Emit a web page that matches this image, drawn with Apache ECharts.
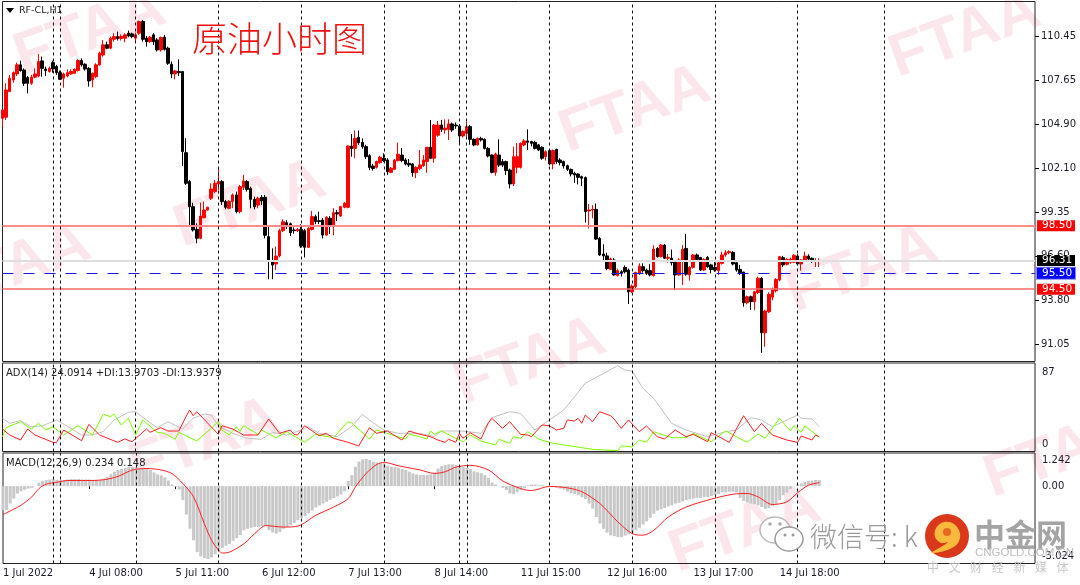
<!DOCTYPE html>
<html><head><meta charset="utf-8">
<style>html,body{margin:0;padding:0;background:#fff}#c{width:1080px;height:585px}</style>
<script src="https://cdn.jsdelivr.net/npm/echarts@6/dist/echarts.min.js"></script>
</head><body><div id="c"></div>
<script>
const opens=[105.27,105.33,106.95,107.68,108.06,108.63,108.31,107.83,107.47,107.85,
107.93,108.88,108.37,108.21,108.77,108.52,108.14,107.79,107.93,108.06,
108.10,108.27,108.90,108.67,108.41,107.68,107.89,108.63,109.25,109.89,
109.68,110.24,110.41,110.29,110.31,110.62,110.58,110.31,110.62,111.36,
110.31,110.09,110.52,110.20,109.57,110.37,109.68,108.67,108.06,108.21,
108.21,103.10,101.28,99.70,98.27,97.71,99.00,99.49,100.23,100.65,
101.13,101.28,100.02,99.60,100.02,100.44,99.39,100.92,101.28,100.85,
100.16,99.80,100.29,100.29,97.81,96.24,96.09,96.60,98.19,98.69,
98.62,98.23,98.19,98.27,98.19,97.14,98.27,99.07,98.82,98.86,
97.91,98.97,98.55,99.32,99.11,99.66,99.66,103.52,103.37,104.07,
103.75,103.48,102.91,102.26,102.18,102.47,102.75,102.64,101.86,102.05,
102.60,102.95,102.64,102.43,102.39,101.84,102.11,102.28,102.55,103.44,
102.75,104.20,104.84,104.54,104.57,104.91,104.84,104.78,104.15,104.32,
104.74,103.94,103.59,104.00,103.94,103.37,102.95,101.86,102.95,102.54,
102.54,102.01,101.13,102.18,102.18,103.59,103.84,103.80,103.75,103.59,
103.44,102.85,103.23,102.39,103.31,102.64,102.54,102.28,102.05,101.80,
101.76,101.59,101.53,99.43,99.49,99.53,97.70,96.72,96.60,95.75,
96.34,95.37,95.60,95.88,95.71,94.34,94.66,95.50,95.92,95.71,
95.67,95.35,97.07,96.55,97.28,96.45,96.45,96.24,95.40,96.34,
97.07,95.40,95.88,96.66,96.50,95.71,96.50,96.03,95.88,95.67,
96.13,96.66,96.80,96.82,96.17,95.75,95.58,93.65,94.03,93.72,
94.30,95.19,91.76,93.08,94.00,94.40,95.08,96.49,96.07,96.20,
96.20,96.59,96.09,96.32,96.59,96.45,96.27,96.27];
const closes=[105.79,107.05,107.79,108.14,108.63,108.27,107.47,107.47,107.85,108.06,
108.84,108.41,108.27,108.41,108.37,108.14,107.72,108.06,108.14,108.21,
108.35,108.90,108.63,108.37,107.62,108.10,108.63,109.36,109.89,109.68,
110.31,110.41,110.29,110.41,110.52,110.45,110.41,110.52,111.36,110.24,
110.09,110.37,110.09,109.57,110.35,109.61,108.73,108.06,108.25,108.14,
103.17,101.17,99.70,98.23,97.71,99.11,99.49,99.66,100.81,101.17,
101.28,100.02,99.66,100.02,100.44,99.39,100.96,101.32,100.79,100.16,
99.70,100.23,100.06,97.90,96.24,96.03,96.59,98.19,98.75,98.54,
98.06,98.19,98.27,97.22,97.14,98.34,99.07,98.76,98.76,97.91,
99.03,98.55,99.32,99.24,99.70,99.91,103.52,103.37,104.00,103.73,
103.48,102.85,102.17,102.11,102.54,102.81,102.60,101.90,102.12,102.64,
103.00,102.60,102.39,102.33,101.84,102.18,102.33,102.64,103.44,102.75,
104.84,104.84,104.57,104.65,104.91,104.53,104.78,104.15,104.43,104.74,
103.94,103.59,104.00,103.90,103.37,102.89,101.86,103.02,102.32,102.32,
101.97,101.13,102.85,102.85,103.69,103.84,103.75,103.69,103.37,103.27,
102.75,103.16,102.39,103.23,102.54,102.47,102.26,102.05,101.76,101.70,
101.55,101.49,99.39,99.49,99.53,97.66,96.66,96.60,95.81,96.40,
95.40,95.67,95.50,95.60,94.34,94.70,95.56,95.96,95.67,95.50,
95.40,97.03,96.55,97.28,96.45,96.51,96.17,95.40,96.34,97.01,
95.45,95.88,96.66,96.38,95.71,96.38,95.92,95.75,95.71,96.17,
96.66,96.80,96.87,96.09,95.71,95.54,93.65,94.03,93.72,94.34,
95.19,91.76,93.13,94.18,94.45,95.12,96.55,96.03,96.38,96.40,
96.63,96.09,96.34,96.59,96.40,96.24,96.31,96.31];
const lows=[104.74,105.16,106.95,107.51,107.93,108.21,107.30,106.84,107.37,107.79,
107.85,107.89,107.93,108.14,108.14,108.00,107.68,107.20,107.85,108.00,
108.06,108.21,108.52,108.27,107.26,107.22,107.79,108.56,109.15,109.61,
109.61,110.09,110.16,110.16,110.05,110.37,110.31,110.05,110.52,110.09,
109.78,110.03,109.89,109.47,109.47,109.53,108.63,107.79,107.72,107.93,
102.26,101.07,98.50,98.13,97.39,97.65,98.97,99.45,100.12,100.54,
100.75,99.80,99.53,99.53,99.60,99.28,99.28,100.75,100.65,99.60,
99.53,99.60,99.80,97.70,95.13,95.13,95.71,96.50,98.10,98.30,
97.85,98.00,98.10,97.10,96.50,97.10,98.20,98.60,98.60,97.70,
97.85,97.98,97.90,98.80,99.05,99.60,99.60,102.85,102.75,103.60,
103.35,102.70,102.00,101.97,102.10,102.40,102.50,101.70,101.80,102.00,
102.55,102.50,102.30,102.20,101.59,101.49,102.00,102.20,101.84,102.70,
102.47,104.10,104.40,104.30,103.90,104.40,104.60,103.65,104.05,104.10,
103.60,103.50,103.55,103.80,103.30,102.80,101.80,101.65,102.20,102.20,
101.70,100.85,101.00,101.80,102.10,103.50,103.27,103.50,103.30,103.20,
102.65,102.60,102.30,102.05,102.40,102.30,102.10,101.95,101.60,101.20,
101.10,101.00,98.70,98.33,98.97,97.60,96.60,96.34,95.70,95.70,
95.35,95.30,95.30,95.50,93.57,94.25,94.55,95.40,95.55,95.40,
95.30,95.30,96.50,96.50,96.40,96.17,96.00,94.45,95.35,94.77,
95.35,95.04,95.80,96.30,95.65,95.65,95.85,95.50,95.60,95.40,
96.05,96.55,96.70,96.00,95.60,95.40,93.40,93.55,93.20,93.20,
94.20,90.50,90.88,93.00,93.80,94.30,95.00,95.90,96.00,96.10,
96.15,96.00,95.67,96.25,96.30,96.15,95.90,95.90];
const highs=[105.79,107.47,108.00,108.21,108.77,108.90,108.41,107.93,108.00,108.41,
109.32,109.15,108.52,108.52,108.90,108.63,108.27,108.14,108.35,108.35,
108.41,108.98,109.04,108.73,108.48,108.14,108.73,109.46,110.20,110.09,
110.41,110.62,110.72,110.55,110.62,110.79,110.66,110.66,111.42,111.46,
110.45,110.45,110.62,110.31,110.41,110.52,109.78,108.84,108.31,108.98,
108.21,104.01,101.38,99.95,98.65,99.95,100.02,99.70,101.17,101.38,
102.12,101.38,100.12,100.12,100.54,100.65,101.07,101.70,101.38,100.96,
100.33,100.33,100.44,100.44,98.44,97.08,97.18,98.30,98.90,98.85,
98.70,98.40,98.35,98.60,98.30,98.40,99.43,99.20,99.38,99.00,
99.10,99.10,99.60,99.50,99.75,100.00,103.55,104.28,104.50,104.50,
104.00,103.60,103.00,102.40,102.60,102.90,103.06,102.75,102.20,102.70,
103.73,103.40,102.75,102.70,102.45,102.25,103.27,102.95,103.44,105.16,
104.90,105.10,105.16,105.20,105.20,105.00,105.00,104.90,104.50,105.05,
104.85,104.00,104.05,104.10,104.00,103.45,103.00,103.10,103.94,102.70,
102.60,102.10,103.48,103.70,103.75,103.95,104.57,103.85,103.85,103.65,
103.50,103.25,103.30,103.30,103.35,102.75,102.60,102.35,102.10,101.90,
101.80,101.65,101.60,99.87,99.80,99.90,97.80,97.33,96.80,96.50,
96.45,95.80,95.70,96.00,95.80,94.80,95.60,96.13,96.13,95.80,
96.08,97.28,97.15,97.35,97.35,96.72,97.00,96.30,96.45,97.28,
97.98,95.95,96.72,96.75,96.55,96.45,96.60,96.10,96.34,96.25,
96.87,96.97,96.95,96.90,96.30,96.03,95.60,94.10,94.10,94.40,
95.30,95.25,93.20,94.30,94.60,95.20,96.60,96.60,96.45,96.50,
96.70,96.70,96.40,96.87,96.70,96.50,96.45,96.45];

const macdHist=[-.98,-.98,-.71,-.51,-.30,-.21,-.15,-.10,-.07,0,
.14,.21,.25,.27,.29,.26,.25,.25,.27,.29,.29,.29,.27,.27,.27,.25,.25,.27,.31,.38,
.49,.59,.66,.70,.74,.78,.79,.79,.72,.72,.72,.66,.56,.48,.44,.36,.23,.07,-.03,-.14,
-.57,-1.16,-1.74,-2.21,-2.69,-2.87,-2.94,-2.97,-2.91,-2.78,-2.65,-2.52,-2.43,-2.36,-2.23,-2.12,-2.00,-1.80,-1.74,-1.70,
-1.67,-1.67,-1.63,-1.63,-1.80,-1.89,-1.94,-1.87,-1.74,-1.67,-1.59,-1.50,-1.38,-1.30,-1.22,-1.11,-1.00,-.87,-.79,-.71,
-.64,-.56,-.49,-.42,-.34,-.21,.21,.45,.79,1.00,1.09,1.11,1.07,1.00,.97,.96,.93,.83,.79,.77,
.75,.70,.66,.59,.52,.48,
.45,.45,.45,.48,.56,.72,.82,.86,.89,.89,.86,.82,.78,.75,.70,.60,.57,.53,.45,.34,
.15,.07,.01,-.07,-.16,-.30,-.33,-.25,-.15,-.07,.04,.07,.07,.04,.04,.01,0,-.03,-.07,-.10,
-.14,-.22,-.29,-.33,-.37,-.45,-.53,-.71,-.92,-1.26,-1.53,-1.74,-1.90,-2.01,-2.04,-2.08,-2.08,-2.02,-1.96,-1.90,
-1.80,-1.70,-1.57,-1.44,-1.29,-1.13,-1.00,-.94,-.89,-.83,-.78,-.71,-.68,-.62,-.57,-.53,-.51,-.48,-.48,-.44,
-.44,-.40,-.37,-.33,-.26,-.25,-.23,-.23,-.26,-.48,-.60,-.67,-.71,-.73,-.78,-.85,-.92,-.89,-.81,-.74,
-.57,-.37,-.26,-.12,0,.07,.11,.18,.21,.23,.25,.25];
const macdSignal=[[0,-1.16],[3,-.94],[5,-.78],[8,-.44],[10,-.10],[12,.08],[15,.16],[18,.23],[23,.23],[28,.26],[32,.40],[36,.66],[40,.72],[44,.66],[47,.51],[50,.11],[53,-.44],[56,-1.53],[58,-2.21],[60,-2.62],[61,-2.73],[63,-2.69],[67,-2.35],[71,-1.80],[73,-1.61],[78,-1.67],[82,-1.63],[87,-1.19],[92,-.85],[96,-.51],[98,-.03],[101,.52],[104,.89],[106,.97],[110,.83],[116,.66],[120,.52],[123,.59],[126,.78],[130,.85],[135,.66],[139,.21],[144,-.10],[147,-.18],[152,-.01],[157,-.07],[161,-.23],[166,-.71],[171,-1.46],[175,-1.94],[178,-2.00],[181,-1.80],[185,-1.26],[190,-.85],[197,-.53],[203,-.33],[207,-.30],[210,-.44],[214,-.75],[218,-.64],[221,-.27],[224,.04],[227,.14]];
const adxLine=[[0,32.7],[2,27.7],[5,30.3],[8,24.3],[11,25],[15,31],[19,22.7],[22,16],[25,16],[28,19.3],[31,31],[35,38.7],[37,39.3],[40,31],[43,23.3],[46,29.3],[47,27.7],[50,22],[53,32.7],[56,37],[58,36],[60,25.3],[64,17.7],[68,12.7],[72,11.7],[75,18.7],[79,16],[83,21],[85,24.3],[88,17.7],[93,14.3],[97,24.3],[100,36.7],[102,31],[106,21],[110,17.7],[116,17.7],[120,14.3],[122,20],[128,20],[133,17.7],[136,33.3],[141,39.3],[144,37.7],[148,21],[152,31],[156,41],[162,67.7],[171,85.3],[173,81],[175,80],[178,62.7],[181,52.7],[186,27.7],[190,21],[196,14.3],[201,19.3],[204,21],[208,33.3],[211,31],[214,24.3],[221,36],[222,32.7],[225,32],[227,24.3]];
const plusDI=[[0,22],[2,16],[5,11],[7,22],[9,16],[14,8.7],[15,8.3],[17,21],[22,10.3],[24,26.7],[27,16],[32,8.7],[34,12],[36,9.3],[40,22],[41,18.7],[44,23.3],[46,20],[49,20],[51,34.3],[52,41],[53,35.3],[54,39.3],[60,16.7],[61,25.3],[64,22],[67,16],[71,16],[74,32],[77,17.7],[80,21],[81,16.7],[82,16],[84,25.3],[88,15.3],[90,17.7],[92,12.7],[96,8.7],[99,5],[102,23.3],[104,17.7],[107,20],[111,11],[113,20],[116,16.7],[119,14.3],[121,11],[123,8.7],[124,11.7],[126,8.7],[127,17.7],[128,12.7],[130,18.3],[133,12],[135,27.7],[136,32.7],[139,22.7],[141,29.3],[144,16.7],[146,16],[147,14.3],[150,26],[152,25.3],[154,21],[156,22.7],[157,31],[159,30],[160,32.7],[161,27.7],[162,36],[164,29.3],[166,39.3],[169,35.3],[170,32],[172,22.7],[174,31],[177,19.3],[179,25],[182,14.3],[184,12],[187,21],[190,14.3],[192,16.7],[196,9.3],[197,18.3],[202,8.7],[206,35.3],[209,19.3],[211,27.7],[214,16],[218,11],[221,8.7],[222,15],[225,11],[226,16],[227,14.3]];
const minusDI=[[0,14.3],[1,23.3],[5,29.3],[8,22],[10,27.7],[12,21],[14,24.3],[17,16],[21,25.3],[25,16],[28,36.7],[30,34.3],[31,37],[33,26],[35,32.7],[37,16],[39,31],[43,18.7],[45,17.7],[48,11.7],[49,18.7],[54,10],[58,22.7],[60,29.3],[61,21],[63,16],[65,24.3],[66,19.3],[67,25.3],[71,16.7],[72,21],[76,13.3],[79,19.3],[84,8.7],[87,16.7],[92,13.3],[96,29.3],[97,28.3],[102,12],[104,21],[112,12],[113,16.7],[116,14.3],[118,12],[119,20],[120,16.7],[122,20],[127,11],[128,9.3],[130,16],[133,10],[137,6],[138,11.7],[141,7.7],[142,14.3],[144,12.7],[146,19.3],[149,12],[153,7.7],[158,5],[164,1.7],[171,.3],[172,5.3],[175,4],[177,11],[179,8.7],[181,19.3],[186,13.3],[190,13.3],[192,17.7],[197,9.3],[201,20],[207,8.7],[210,17],[212,12.7],[216,32.7],[219,20],[220,25.3],[222,18.7],[223,25],[227,14]];

const tickLabels=['1 Jul 2022','4 Jul 08:00','5 Jul 11:00','6 Jul 12:00','7 Jul 13:00','8 Jul 14:00','11 Jul 15:00','12 Jul 16:00','13 Jul 17:00','14 Jul 18:00'];
const priceTicks=[110.45,107.65,104.90,102.10,99.35,96.60,93.80,91.05];
const adxTicks=[87,0];
const macdTicks=[1.242,0,-3.024];
const periodBars=[14,16,37,60,83,106,127,129,152,175,198,221,245];
const LEVELS={upper:98.50,last:96.31,mid:95.50,lower:94.50};
const TOTAL_SLOTS=288;

const FONT='"DejaVu Sans",sans-serif';
const categories=Array.from({length:TOTAL_SLOTS},(_,i)=>String(i));
const candleData=opens.map((o,i)=>[o,closes[i],lows[i],highs[i]]);
const vLines={silent:true,symbol:'none',animation:false,label:{show:false},
  lineStyle:{color:'#111',type:[3,3],width:1},data:periodBars.map(b=>({xAxis:b}))};
function tag(v,bg,txt,border){return {yAxis:v,label:{show:true,position:'end',distance:2,formatter:txt,color:'#fff',
  backgroundColor:bg,fontFamily:FONT,fontSize:10.5,padding:[1,4,0,5],width:29,height:10,lineHeight:10,borderColor:border||bg,borderWidth:border?1:0}};}
const hLines={silent:true,symbol:'none',animation:false,data:[
  Object.assign(tag(LEVELS.upper,'#ff0000',LEVELS.upper.toFixed(2)),{lineStyle:{color:'#ff8a8a',width:2,type:'solid'}}),
  Object.assign(tag(LEVELS.last,'#000000',LEVELS.last.toFixed(2)),{lineStyle:{color:'#dedede',width:2,type:'solid'}}),
  Object.assign(tag(LEVELS.mid,'#0000ff',LEVELS.mid.toFixed(2),'#8888ff'),{lineStyle:{color:'#1818e0',width:1,type:[11,10]}}),
  Object.assign(tag(LEVELS.lower,'#ff0000',LEVELS.lower.toFixed(2)),{lineStyle:{color:'#ff6a6a',width:1.5,type:'solid'}})
]};

const commonX=i=>({type:'category',gridIndex:i,data:categories,boundaryGap:false,
  axisLine:{show:false},axisTick:{show:false},axisLabel:{show:false},splitLine:{show:false}});
function axisY(i,min,max,ticks,fmt,tick,rich){return {type:'value',gridIndex:i,position:'right',min,max,scale:true,
  axisLine:{show:false},splitLine:{show:false},
  axisTick:{show:tick,length:4,lineStyle:{color:'#000'},customValues:ticks},
  axisLabel:{show:true,customValues:ticks,margin:tick?6:7,color:'#1a1a2a',fontFamily:FONT,fontSize:10,formatter:fmt,rich:rich||{}}};}

const marks=[[90,33],[250,205],[635,110],[965,35],[15,268],[862,270],[530,362],[205,443],[745,530],[1060,455]];
const graphics=marks.map(([x,y])=>({type:'text',x,y,rotation:.35,z:-10,zlevel:0,silent:true,
  style:{text:'FTAA',font:'bold 60px "Liberation Sans",sans-serif',fill:'#fbe6ec',align:'center',verticalAlign:'middle'}}));
const t=(x,y,text,font,fill,extra)=>({type:'text',x,y,z:50,silent:true,style:Object.assign({text,font,fill,verticalAlign:'middle'},extra||{})});
const footer='中文财经新媒体'.split('').map((c,i)=>t(927+i*21.6,567,c,'12px "Noto Sans CJK SC"','#c8c8c8'));
graphics.push(
 {type:'polygon',z:50,shape:{points:[[6,8],[14,8],[10,13]]},style:{fill:'#000'}},
 t(19,11,'RF-CL,H1','9.5px '+FONT,'#222'),
 t(192,39,'原油小时图','300 35px "Noto Sans CJK SC"','#f01010'),
 t(6,373,'ADX(14) 24.0914 +DI:13.9703 -DI:13.9379','10px '+FONT,'#222'),
 t(6,463,'MACD(12,26,9) 0.234 0.148','10px '+FONT,'#222'),
 {type:'ellipse',z:50,shape:{cx:775,cy:530,rx:15,ry:13},style:{fill:'#fff',stroke:'#bbb',lineWidth:1.5}},
 {type:'ellipse',z:51,shape:{cx:789,cy:539,rx:14,ry:12},style:{fill:'#fff',stroke:'#999',lineWidth:1.5}},
 {type:'circle',z:52,shape:{cx:770,cy:524,r:1.8},style:{fill:'#aaa'}},
 {type:'circle',z:52,shape:{cx:780,cy:524,r:1.8},style:{fill:'#aaa'}},
 {type:'circle',z:52,shape:{cx:785,cy:535,r:1.5},style:{fill:'#999'}},
 {type:'circle',z:52,shape:{cx:793,cy:535,r:1.5},style:{fill:'#999'}},
 t(810,537,'微信号: k','300 27px "Noto Sans CJK SC"','#9a9a9a'),
 {type:'circle',z:60,shape:{cx:947,cy:536,r:22},style:{fill:'#d9391a'}},
 {type:'polygon',z:61,shape:{smooth:0.35,points:[[936,528],[944,522],[954,524],[960,533],[958,543],[950,549],[940,552],[931,553],[941,547],[948,542],[941,543],[935,537]]},style:{fill:'#f9b93d'}},
 {type:'circle',z:62,shape:{cx:947,cy:532,r:4},style:{fill:'#e8681f'}},
 t(974,534,'中金网','bold 31px "Noto Sans CJK SC"','#a4a4a4'),
 t(975,553,'CNGOLD.COM.CN','11.5px "Liberation Sans"','#bcbcbc'),
 ...footer
);

const chart=echarts.init(document.getElementById('c'),null,{renderer:'canvas'});
const tickShown=i=>i%24===0&&i/24<tickLabels.length;
chart.setOption({animation:false,backgroundColor:'#fff',
 graphic:{elements:graphics},
 grid:[
  {left:2.5,right:45,top:1.5,height:360,show:true,borderColor:'#222',borderWidth:1,backgroundColor:'transparent',z:1},
  {left:2.5,right:45,top:363,height:88.5,show:true,borderColor:'#222',borderWidth:1,backgroundColor:'transparent',z:1},
  {left:2.5,right:45,top:453,height:110.5,show:true,borderColor:'#222',borderWidth:1,backgroundColor:'transparent',z:1}
 ],
 xAxis:[commonX(0),commonX(1),Object.assign(commonX(2),{
   axisTick:{show:true,length:3,lineStyle:{color:'#000'},alignWithLabel:true,interval:tickShown},
   axisLabel:{show:true,margin:5,align:'left',color:'#1a1a2a',fontFamily:FONT,fontSize:10,showMinLabel:true,hideOverlap:false,
     interval:tickShown,formatter:(v,i)=>tickLabels[+v/24]||''}
 })],
 yAxis:[
  axisY(0,89.95,112.62,priceTicks,v=>v.toFixed(2),true),
  axisY(1,-0.5,88,adxTicks,v=>v===87?'{a|87}':'{b|0}',false,{a:{padding:[16,0,0,0],fontFamily:FONT,fontSize:10,color:'#1a1a2a'},b:{padding:[0,0,14,0],fontFamily:FONT,fontSize:10,color:'#1a1a2a'}}),
  axisY(2,-3.157,1.353,macdTicks,v=>v===0?'0.00':(v>0?'{a|1.242}':'{b|-3.024}'),false,{a:{padding:[10,0,0,0],fontFamily:FONT,fontSize:10,color:'#1a1a2a'},b:{padding:[0,0,8,0],fontFamily:FONT,fontSize:10,color:'#1a1a2a'}})
 ],
 series:[
  {type:'candlestick',xAxisIndex:0,yAxisIndex:0,data:candleData,barWidth:3,z:3,
   itemStyle:{color:'#ff0000',color0:'#000000',borderColor:'#ff0000',borderColor0:'#000000',borderWidth:1},
   markLine:hLines},
  {type:'line',xAxisIndex:0,yAxisIndex:0,data:[],markLine:vLines,z:4},
  {type:'line',xAxisIndex:1,yAxisIndex:1,data:adxLine,showSymbol:false,lineStyle:{color:'#c0c0c0',width:1},z:3,markLine:vLines},
  {type:'line',xAxisIndex:1,yAxisIndex:1,data:minusDI,showSymbol:false,lineStyle:{color:'#7cfc00',width:1},z:3},
  {type:'line',xAxisIndex:1,yAxisIndex:1,data:plusDI,showSymbol:false,lineStyle:{color:'#ff2020',width:1},z:3},
  {type:'bar',xAxisIndex:2,yAxisIndex:2,data:macdHist,barWidth:3,itemStyle:{color:'#c8c8c8'},z:2,markLine:vLines},
  {type:'line',xAxisIndex:2,yAxisIndex:2,data:macdSignal,showSymbol:false,smooth:0.3,lineStyle:{color:'#ff2020',width:1},z:3}
 ]
});
</script></body></html>
